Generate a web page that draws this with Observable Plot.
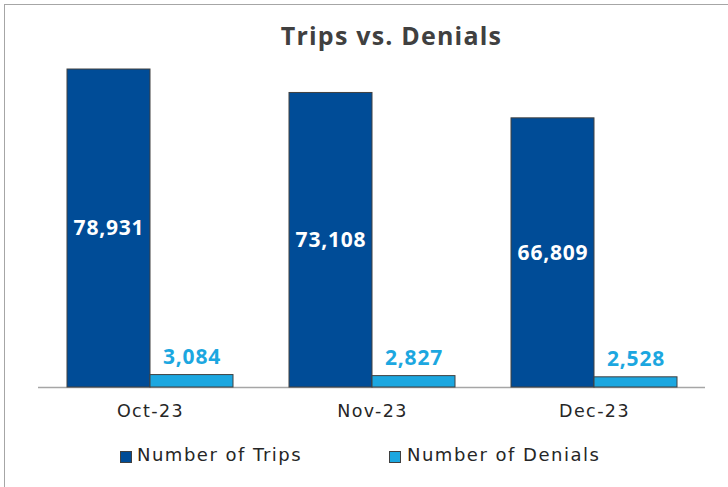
<!DOCTYPE html>
<html><head><meta charset="utf-8">
<script src="https://cdn.jsdelivr.net/npm/d3@7"></script>
<script src="https://cdn.jsdelivr.net/npm/@observablehq/plot@0.6"></script>
<style>
body{margin:0;background:#fff;font-family:"Open Sans",sans-serif;}
#wrap{position:relative;width:728px;height:487px;overflow:hidden;background:#fff;}
#frame{position:absolute;left:4px;top:4px;width:760px;height:520px;border:1px solid #a6a6a6;box-sizing:border-box;}
#title{position:absolute;left:0;width:783px;top:18px;text-align:center;font-weight:700;font-size:25px;letter-spacing:1.2px;color:#404040;}
#chart{position:absolute;left:0;top:0;}
.leg{position:absolute;top:444px;font-family:"DejaVu Sans",sans-serif;font-size:18px;letter-spacing:1.5px;color:#262626;white-space:nowrap;}
.sw{position:absolute;top:451px;width:12px;height:12px;box-sizing:border-box;border:1px solid #404040;}
</style></head>
<body>
<div id="wrap">
  <div id="frame"></div>
  <div id="chart"></div>
  <div id="title">Trips vs. Denials</div>
</div>
<script>
const months = ["Oct-23", "Nov-23", "Dec-23"];
const series = ["Number of Trips", "Number of Denials"];
const trips = [78931, 73108, 66809];
const denials = [3084, 2827, 2528];
const colors = ["#004c97", "#1ca7e0"];

const tripData = months.map((m, i) => ({month: m, value: trips[i]}));
const denialData = months.map((m, i) => ({month: m, value: denials[i]}));
const fmt = d3.format(",");

const plot = Plot.plot({
  width: 728,
  height: 487,
  marginLeft: 38,
  marginRight: 23,
  marginTop: 64.7,
  marginBottom: 100,
  style: {fontFamily: "'Open Sans', sans-serif", background: "transparent", overflow: "visible"},
  x: {domain: months, paddingInner: 0.254, paddingOuter: 0.127, label: null},
  y: {domain: [0, 80000], axis: null},
  marks: [
    Plot.ruleY([0], {stroke: "#a6a6a6", strokeWidth: 1.5}),
    Plot.barY(tripData, {x: "month", y: "value", fill: colors[0], stroke: "#404040", strokeWidth: 1, insetRight: 83}),
    Plot.barY(denialData, {x: "month", y: "value", fill: colors[1], stroke: "#404040", strokeWidth: 1, insetLeft: 83}),
    Plot.text(tripData, {x: "month", y: d => d.value / 2, text: d => fmt(d.value), dx: -41.5, fill: "#fff", fontSize: 21, fontWeight: 700, lineAnchor: "middle"}),
    Plot.text(denialData, {x: "month", y: "value", text: d => fmt(d.value), dx: 41.5, dy: -18, fill: colors[1], fontSize: 21, fontWeight: 700, lineAnchor: "middle"}),
    Plot.axisX({tickSize: 0, tickPadding: 17, fontSize: 17.5, fontFamily: "DejaVu Sans", color: "#262626", label: null})
  ]
});
document.getElementById("chart").appendChild(plot);
d3.select(plot).selectAll("g[aria-label='text'] text").style("letter-spacing", "0.8px");
d3.select(plot).selectAll("g[aria-label='x-axis tick label'] text").style("letter-spacing", "1.4px");

const legX = [[120, 137], [389, 407]];
const wrap = document.getElementById("wrap");
series.forEach((s, i) => {
  const sw = document.createElement("div");
  sw.className = "sw";
  sw.style.left = legX[i][0] + "px";
  sw.style.background = colors[i];
  wrap.appendChild(sw);
  const t = document.createElement("div");
  t.className = "leg";
  t.style.left = legX[i][1] + "px";
  t.textContent = s;
  wrap.appendChild(t);
});
</script>
</body></html>
